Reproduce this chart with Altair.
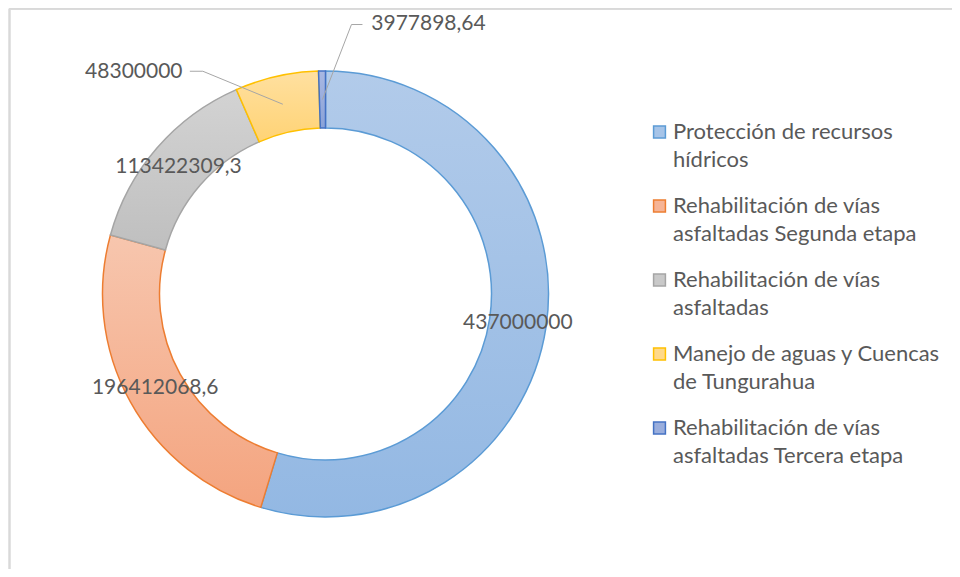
import altair as alt
import pandas as pd

categories = [
    "Protección de recursos hídricos",
    "Rehabilitación de vías asfaltadas Segunda etapa",
    "Rehabilitación de vías asfaltadas",
    "Manejo de aguas y Cuencas de Tungurahua",
    "Rehabilitación de vías asfaltadas Tercera etapa",
]
values = [437000000, 196412068.6, 113422309.3, 48300000, 3977898.64]
legend_line1 = [
    "Protección de recursos",
    "Rehabilitación de vías",
    "Rehabilitación de vías",
    "Manejo de aguas y Cuencas",
    "Rehabilitación de vías",
]
legend_line2 = [
    "hídricos",
    "asfaltadas Segunda etapa",
    "asfaltadas",
    "de Tungurahua",
    "asfaltadas Tercera etapa",
]
grad_top = ["#b2cbea", "#f7c6ae", "#d3d3d3", "#ffe0a0", "#a9b8e2"]
grad_bottom = ["#93b8e3", "#f4a47f", "#bfbfbf", "#ffd375", "#8aa2d8"]
strokes = ["#5b9bd5", "#ed7d31", "#a5a5a5", "#ffc000", "#4472c4"]
legend_fill = ["#a6c4e8", "#f6b496", "#c9c9c9", "#ffd98a", "#9aaedd"]


def fmt(v):
    s = ("%.2f" % v).rstrip("0").rstrip(".")
    return s.replace(".", ",")


df = pd.DataFrame({
    "cat": categories,
    "value": values,
    "order": list(range(len(values))),
    "label": [fmt(v) for v in values],
    "l1": legend_line1,
    "l2": legend_line2,
})

total = float(sum(values))
CX, CY = 317.5, 286
R_OUT, R_IN = 223, 166
R_MID = (R_OUT + R_IN) / 2
FONT = "Lato"
TXT = "#595959"
LBL_SIZE = 21
LEG_SIZE = 22

theta_scale = alt.Scale(domain=[0, total], range=[0, 6.283185307179586])

base = (
    alt.Chart(df)
    .transform_window(cum="sum(value)", sort=[alt.SortField("order")], frame=[None, 0])
    .transform_calculate(start="datum.cum - datum.value", mid="datum.cum - datum.value / 2")
)

layers = []
for i, name in enumerate(categories):
    grad = alt.LinearGradient(
        gradient="linear",
        stops=[alt.GradientStop(color=grad_top[i], offset=0),
               alt.GradientStop(color=grad_bottom[i], offset=1)],
        x1=0, x2=0, y1=0, y2=1,
    )
    arc = (
        base.transform_filter(alt.datum.order == i)
        .mark_arc(fill=grad, stroke=strokes[i], strokeWidth=1.5,
                  innerRadius=R_IN, outerRadius=R_OUT)
        .encode(
            theta=alt.Theta("start:Q", scale=theta_scale),
            theta2="cum:Q",
            x=alt.value(CX), y=alt.value(CY),
        )
    )
    layers.append(arc)

inner_labels = (
    base.transform_filter(alt.datum.order < 3)
    .mark_text(radius=R_MID, font=FONT, fontSize=LBL_SIZE, color=TXT, align="center", baseline="middle")
    .encode(theta=alt.Theta("mid:Q", scale=theta_scale), text="label:N",
            x=alt.value(CX), y=alt.value(CY))
)
layers.append(inner_labels)

outside = [(3, -149, -32), (4, 106, -76)]
for idx, ddx, ddy in outside:
    t = (
        base.transform_filter(alt.datum.order == idx)
        .mark_text(radius=R_MID, font=FONT, fontSize=LBL_SIZE, color=TXT, align="center",
                   baseline="middle", dx=ddx, dy=ddy)
        .encode(theta=alt.Theta("mid:Q", scale=theta_scale), text="label:N",
                x=alt.value(CX), y=alt.value(CY))
    )
    layers.append(t)

# leader lines
leaders = [(3, -80, -33, -13), (4, 29, -75, 11)]
for idx, ex, ey, hx in leaders:
    lb = (
        base.transform_filter(alt.datum.order == idx)
        .transform_calculate(
            ang=f"2 * PI * datum.mid / {total}",
        )
        .transform_calculate(
            ax=f"{CX} + {R_MID} * sin(datum.ang)",
            ay=f"{CY} - {R_MID} * cos(datum.ang)",
        )
        .transform_calculate(
            ex=f"datum.ax + ({ex})",
            ey=f"datum.ay + ({ey})",
        )
        .transform_calculate(hx=f"datum.ex + ({hx})")
    )
    r1 = lb.mark_rule(color="#a6a6a6", strokeWidth=1).encode(
        x=alt.X("ax:Q", scale=None, axis=None), y=alt.Y("ay:Q", scale=None, axis=None),
        x2="ex:Q", y2="ey:Q")
    r2 = lb.mark_rule(color="#a6a6a6", strokeWidth=1).encode(
        x=alt.X("ex:Q", scale=None, axis=None), y=alt.Y("ey:Q", scale=None, axis=None),
        x2="hx:Q", y2="ey:Q")
    layers += [r1, r2]

# legend
leg_y = alt.Y("order:Q", scale=alt.Scale(domain=[0, 4], range=[124, 420]), axis=None)
sq = alt.Chart(df).mark_point(shape="square", size=140, filled=True, strokeWidth=1.5, opacity=1).encode(
    x=alt.value(651.5), y=leg_y,
    fill=alt.Fill("cat:N", scale=alt.Scale(domain=categories, range=legend_fill), legend=None),
    stroke=alt.Stroke("cat:N", scale=alt.Scale(domain=categories, range=strokes), legend=None),
)
t1 = alt.Chart(df).mark_text(font=FONT, fontSize=LEG_SIZE, color=TXT, align="left", baseline="middle").encode(
    x=alt.value(665), y=leg_y, text="l1:N")
t2 = alt.Chart(df).mark_text(font=FONT, fontSize=LEG_SIZE, color=TXT, align="left", baseline="middle", dy=28).encode(
    x=alt.value(665), y=leg_y, text="l2:N")
layers += [sq, t1, t2]

# frame
frame_top = alt.Chart(df).mark_rule(color="#d9d9d9", strokeWidth=1.5).encode(
    x=alt.value(1.5), x2=alt.value(944), y=alt.value(0.75))
frame_left = alt.Chart(df).mark_rule(color="#d9d9d9", strokeWidth=1.5).encode(
    x=alt.value(1.5), y=alt.value(0.75), y2=alt.value(561))
layers = [frame_top, frame_left] + layers

chart = alt.layer(*layers).properties(
    width=944, height=561, padding=0, autosize=alt.AutoSizeParams(type="none"),
    background="white",
).configure_view(stroke=None).resolve_scale(theta="shared")

chart.save("out.html", embed_options={"renderer": "svg", "actions": False})
